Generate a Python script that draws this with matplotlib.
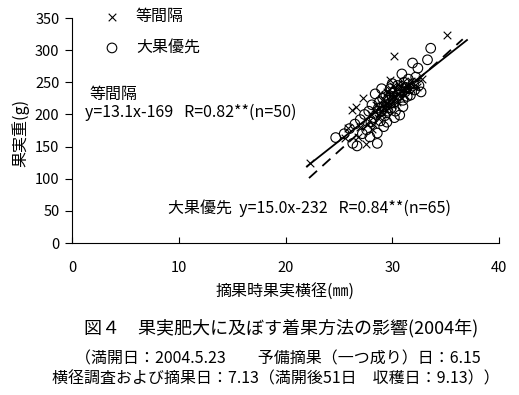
import matplotlib
matplotlib.use("Agg")
import matplotlib.pyplot as plt
import numpy as np

plt.rcParams['font.family'] = ['Noto Sans CJK JP', 'DejaVu Sans']

# 等間隔 (x: 摘果時果実横径 mm, y: 果実重 g)
x_eq = [22.3, 25.6, 25.9, 26.2, 26.6, 26.8, 27.3, 27.5, 27.8, 28.0,
        28.2, 28.4, 28.5, 28.7, 28.8, 29.0, 29.1, 29.2, 29.3, 29.4,
        29.5, 29.5, 29.6, 29.7, 29.8, 29.9, 30.0, 30.0, 30.1, 30.2,
        30.2, 30.3, 30.4, 30.5, 30.6, 30.7, 30.8, 30.9, 31.0, 31.1,
        31.2, 31.4, 31.6, 31.8, 32.0, 32.3, 32.8, 28.1, 27.0, 35.1]
y_eq = [124, 163, 179, 207, 211, 165, 225, 154, 190, 200,
        185, 205, 215, 195, 210, 222, 200, 212, 230, 205,
        235, 218, 210, 240, 254, 225, 215, 232, 245, 291,
        228, 238, 220, 248, 232, 242, 225, 236, 250, 240,
        230, 245, 238, 252, 245, 242, 255, 178, 180, 323]

# 大果優先
x_lg = [24.7, 25.5, 26.0, 26.3, 26.5, 26.7, 27.0, 27.2, 27.4, 27.6,
        27.8, 28.0, 28.1, 28.3, 28.5, 28.6, 28.6, 28.7, 28.8, 28.9,
        29.0, 29.1, 29.2, 29.2, 29.3, 29.4, 29.5, 29.6, 29.7, 29.8,
        29.9, 30.0, 30.0, 30.1, 30.2, 30.3, 30.4, 30.5, 30.6, 30.7,
        30.8, 30.9, 31.0, 31.1, 31.2, 31.3, 31.4, 31.5, 31.6, 31.7,
        31.9, 32.0, 32.1, 32.2, 32.4, 32.5, 32.7, 33.3, 33.6, 27.9,
        28.4, 29.0, 30.2, 31.0, 29.5]
y_lg = [164, 170, 178, 155, 185, 151, 192, 170, 200, 176,
        205, 188, 215, 195, 200, 171, 155, 210, 220, 190,
        205, 225, 181, 212, 198, 230, 215, 205, 222, 240,
        210, 228, 248, 218, 235, 205, 225, 245, 230, 199,
        238, 263, 222, 250, 235, 242, 228, 255, 240, 230,
        280, 248, 238, 258, 272, 245, 235, 285, 303, 165,
        232, 240, 195, 212, 188]

# regression lines: slope, intercept, x range
fit_eq = (13.1, -169, 22.0, 37.0)
fit_lg = (15.0, -232, 22.2, 36.6)

fig = plt.figure(figsize=(5.19, 3.95), dpi=100)
ax = fig.add_axes([0.1387, 0.3848, 0.8228, 0.5696])

ax.scatter(x_eq, y_eq, marker='x', s=30, c='black', linewidths=0.8, label='等間隔')
ax.scatter(x_lg, y_lg, marker='o', s=48, facecolors='none', edgecolors='black',
           linewidths=0.8, label='大果優先')

a, b, x0, x1 = fit_eq
xs = np.array([x0, x1])
ax.plot(xs, a * xs + b, color='black', lw=1.3)
a, b, x0, x1 = fit_lg
xs = np.array([x0, x1])
ax.plot(xs, a * xs + b, color='black', lw=1.3, dashes=(6, 4))

ax.set_xlim(0, 40)
ax.set_ylim(0, 350)
ax.set_xticks([0, 10, 20, 30, 40])
ax.set_yticks(range(0, 351, 50))
ax.spines['top'].set_visible(False)
ax.spines['right'].set_visible(False)
ax.tick_params(axis='x', direction='in', length=4, labelsize=10.5, pad=13)
ax.tick_params(axis='y', direction='out', length=5, labelsize=10.5, pad=4)

ax.set_xlabel('摘果時果実横径(㎜)', fontsize=11.5, labelpad=6)
ax.set_ylabel('果実重(g)', fontsize=11.5)
ax.yaxis.set_label_coords(-0.10, 0.49)

ax.legend(loc='upper left', bbox_to_anchor=(0.06, 1.074), borderaxespad=0,
          frameon=False, fontsize=11.5, labelspacing=0.9, handlelength=1.0,
          handletextpad=1.0, scatterpoints=1)

ax.text(0.04, 0.658, '等間隔', transform=ax.transAxes, fontsize=11.5, va='center')
ax.text(0.03, 0.582, 'y=13.1x-169   R=0.82**(n=50)', transform=ax.transAxes,
        fontsize=11.5, va='center')
ax.text(0.225, 0.156, '大果優先  y=15.0x-232   R=0.84**(n=65)', transform=ax.transAxes,
        fontsize=11.5, va='center')

fig.text(0.542, 0.170, '図４　果実肥大に及ぼす着果方法の影響(2004年)', ha='center',
         va='center', fontsize=13)
fig.text(0.535, 0.092, '（満開日：2004.5.23　　予備摘果（一つ成り）日：6.15', ha='center',
         va='center', fontsize=11.5)
fig.text(0.532, 0.041, '横径調査および摘果日：7.13（満開後51日　収穫日：9.13））', ha='center',
         va='center', fontsize=11.5)

fig.savefig('out.png', dpi=100)
